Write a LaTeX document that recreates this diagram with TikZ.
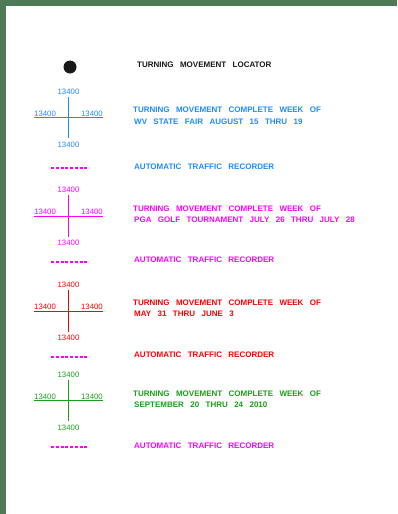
\documentclass[tikz,border=0pt]{standalone}
\usepackage{fontspec}
\setmainfont{Liberation Sans}
\definecolor{framegreen}{HTML}{4E7B55}
\definecolor{cadblue}{HTML}{1E8CFF}
\definecolor{cadgreen}{HTML}{18A018}
\definecolor{cadmagenta}{HTML}{FF00FF}
\definecolor{cadred}{HTML}{FF0000}
\def\widewords{\spaceskip 6.4pt plus 1pt\relax}
\def\dashpair{\rule{3pt}{1.5pt}\hspace{1.75pt}}
\def\dashrow{\dashpair\dashpair\dashpair\dashpair\dashpair\dashpair\dashpair\rule{3pt}{1.5pt}}
\tikzset{
	count/.style={inner sep=0pt, font=\fontsize{7.8}{8}\selectfont},
	note/.style={inner sep=0pt, anchor=west, font=\fontsize{8}{9}\selectfont\bfseries\widewords},
	atrdash/.style={inner sep=0pt, anchor=west, text=cadmagenta, font=\fontsize{1}{1}\selectfont},
}
% one locator cross: colour, name, y of the cross bar
\def\locator[#1](#2)(#3){%
	\node[count, text=#1] (#2n) at (68.5, #3-26) {13400};
	\node[count, text=#1] (#2s) at (68.5, #3+27) {13400};
	\node[count, text=#1, anchor=south west] (#2w) at (34, #3-1) {13400};
	\node[count, text=#1, anchor=south east] (#2e) at (103, #3-1) {13400};
	\draw[draw=#1, line width=1pt, shorten <=2.5pt, shorten >=3.5pt] (#2n.south) -- (#2s.north);
	\draw[draw=#1, line width=1pt] ([yshift=-1pt]#2w.south west) -- ([yshift=-1pt]#2e.south east);
}

\begin{document}
\begin{tikzpicture}[x=1pt, y=-1pt]
	%%%%% FRAME %%%%%
	\useasboundingbox (0, 0) rectangle (397, 514);
	\fill[white] (0, 0) rectangle (397, 514);
	\fill[framegreen] (0, 0) rectangle (397, 6);
	\fill[framegreen] (0, 0) rectangle (6, 514);
	
	%%%%% TITLE %%%%%
	\fill[black!90] (70, 67) circle (6.5);
	\node[note, text=black!90] (title) at (137, 64.5) {TURNING MOVEMENT LOCATOR};
	
	%%%%% BLUE %%%%%
	\locator[cadblue](blue)(117.5)
	\node[note, text=cadblue] (blueone) at (133, 110) {TURNING MOVEMENT COMPLETE WEEK OF};
	\node[note, text=cadblue] (bluetwo) at (134, 121.5) {WV STATE FAIR AUGUST 15 THRU 19};
	\node[atrdash] (bluerec) at (51, 168) {\dashrow};
	\node[note, text=cadblue] (blueatr) at (134, 167) {AUTOMATIC TRAFFIC RECORDER};
	
	%%%%% MAGENTA %%%%%
	\locator[cadmagenta](pink)(216)
	\node[note, text=cadmagenta] (pinkone) at (133, 208.5) {TURNING MOVEMENT COMPLETE WEEK OF};
	\node[note, text=cadmagenta] (pinktwo) at (134, 220) {PGA GOLF TOURNAMENT JULY 26 THRU JULY 28};
	\node[atrdash] (pinkrec) at (51, 262) {\dashrow};
	\node[note, text=cadmagenta] (pinkatr) at (134, 260) {AUTOMATIC TRAFFIC RECORDER};
	
	%%%%% RED %%%%%
	\locator[cadred](red)(311)
	\node[note, text=cadred] (redone) at (133, 303) {TURNING MOVEMENT COMPLETE WEEK OF};
	\node[note, text=cadred] (redtwo) at (134, 314) {MAY 31 THRU JUNE 3};
	\node[atrdash] (redrec) at (51, 357) {\dashrow};
	\node[note, text=cadred] (redatr) at (134, 355) {AUTOMATIC TRAFFIC RECORDER};
	
	%%%%% GREEN %%%%%
	\locator[cadgreen](green)(400.5)
	\node[note, text=cadgreen] (greenone) at (133, 394) {TURNING MOVEMENT COMPLETE WEEK OF};
	\node[note, text=cadgreen] (greentwo) at (134, 405) {SEPTEMBER 20 THRU 24 2010};
	\node[atrdash] (greenrec) at (51, 447) {\dashrow};
	\node[note, text=cadmagenta] (greenatr) at (134, 446) {AUTOMATIC TRAFFIC RECORDER};
\end{tikzpicture}
\end{document}
